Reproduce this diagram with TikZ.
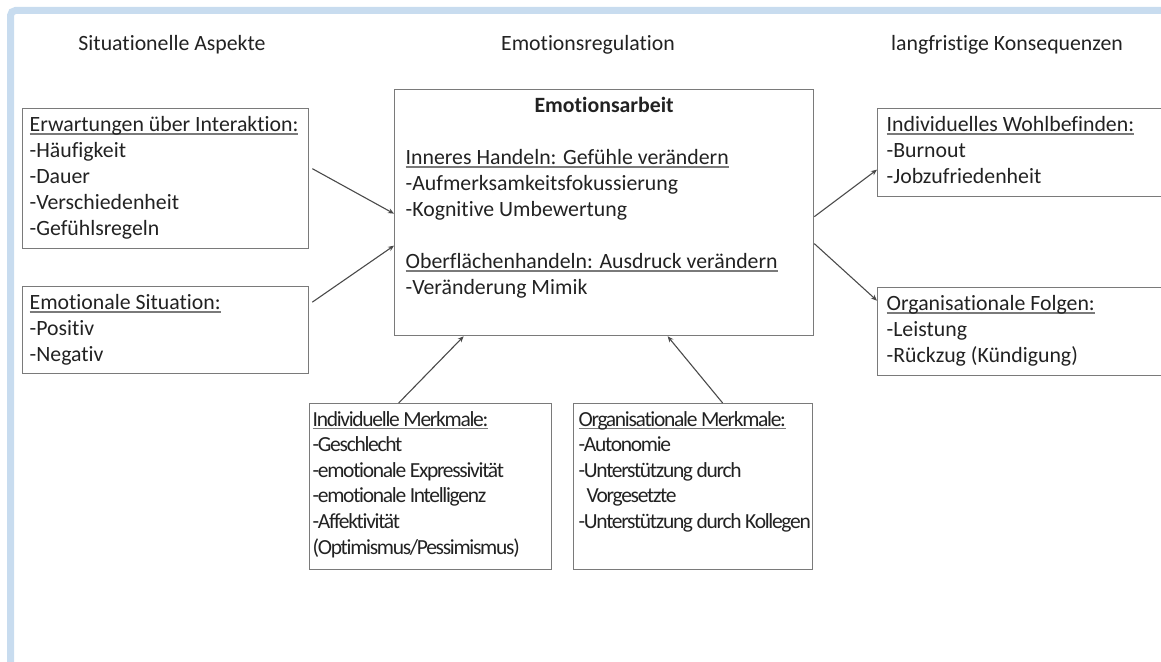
\documentclass[tikz,border=0pt]{standalone}
\usepackage{fontspec}
\setmainfont{Carlito}[Ligatures={NoCommon}]
% tightly set face for the two lower boxes
\newfontfamily\tightface{Carlito}[Ligatures={NoCommon}, LetterSpace=-6]
\usetikzlibrary{arrows.meta}

\definecolor{framebl}{HTML}{C8DCEF}
\definecolor{boxline}{HTML}{7A7A7A}
\definecolor{inktext}{HTML}{222222}
\definecolor{arrowln}{HTML}{4A4A4A}

% underlined heading, rule just below the baseline
\newcommand{\hdline}[1]{\leavevmode\setbox0=\hbox{#1}\rlap{\color{boxline}\rule[-3.2pt]{\wd0}{1.3pt}}\box0}
% box body: width, height, left padding, lines
\newcommand{\panel}[4]{%
  \begin{minipage}[t][#2pt][t]{#1pt}\raggedright\leftskip=#3pt\relax\parindent=0pt
  \hbadness=10000\hfuzz=30pt
  \vspace*{4.5pt}\strut#4\end{minipage}}

\begin{document}
\begin{tikzpicture}[x=1pt,y=-1pt,
  txt/.style={font=\fontsize{21.8pt}{26pt}\selectfont, text=inktext},
  box/.style={txt, draw=boxline, line width=1.3pt, inner sep=0pt, anchor=north west, align=left},
  smallbox/.style={box, font=\tightface\fontsize{21.5pt}{25.6pt}\selectfont},
  head/.style={txt, inner sep=0pt, anchor=base},
  arr/.style={draw=arrowln, line width=1.1pt, -{Stealth[length=6pt,width=5pt]}}]

\path[use as bounding box, clip] (0,0) rectangle (1161,661);

% light blue page frame
\draw[framebl, line width=7pt, rounded corners=5pt] (1250,10.5) -- (10.5,10.5) -- (10.5,720);

% column headings
\node[head] (hsit) at (172,51) {Situationelle Aspekte};
\node[head] (hreg) at (588,51) {Emotionsregulation};
\node[head] (hkon) at (1007,51) {langfristige Konsequenzen};

% left column
\node[box] (erw) at (22,108) {\panel{286}{140}{7}{%
  \hdline{Erwartungen über Interaktion:}\\
  -Häufigkeit\\
  -Dauer\\
  -Verschiedenheit\\
  -Gefühlsregeln}};
\node[box] (emo) at (22,286) {\panel{286}{87}{7}{%
  \hdline{Emotionale Situation:}\\
  -Positiv\\
  -Negativ}};

% central box
\node[box] (ea) at (394,89) {\panel{419}{246}{11}{%
  \makebox[\dimexpr\linewidth-22pt]{\bfseries Emotionsarbeit}\\
  \strut\\
  \hdline{Inneres Handeln: Gefühle verändern}\\
  -Aufmerksamkeitsfokussierung\\
  -Kognitive Umbewertung\\
  \strut\\
  \hdline{Oberflächenhandeln: Ausdruck verändern}\\
  -Veränderung Mimik}};

% right column
\node[box] (iwb) at (877,108) {\panel{320}{88}{9}{%
  \hdline{Individuelles Wohlbefinden:}\\
  -Burnout\\
  -Jobzufriedenheit}};
\node[box] (orgf) at (877,287) {\panel{320}{88}{9}{%
  \hdline{Organisationale Folgen:}\\
  -Leistung\\
  -Rückzug (Kündigung)}};

% bottom row
\node[smallbox] (im) at (309,403) {\panel{242}{166}{3}{%
  \hdline{Individuelle Merkmale:}\\
  -Geschlecht\\
  -emotionale Expressivität\\
  -emotionale Intelligenz\\
  -Affektivität\\
  \mbox{(Optimismus/Pessimismus)}}};
\node[smallbox] (om) at (573,403) {\panel{239}{166}{5}{%
  \hdline{Organisationale Merkmale:}\\
  -Autonomie\\
  -Unterstützung durch\\
  \hspace*{8pt}Vorgesetzte\\
  \mbox{-Unterstützung durch Kollegen}}};

% connectors
\draw[arr] ([xshift=3pt,yshift=10pt]erw.east) -- ([yshift=-1pt]ea.west);
\draw[arr] ([xshift=3pt,yshift=28pt]emo.east) -- ([yshift=-33pt]ea.west);
\draw[arr] ([yshift=-4pt]ea.east) -- ([yshift=-17pt]iwb.west);
\draw[arr] ([yshift=-31pt]ea.east) -- ([yshift=31pt]orgf.west);
\draw[arr] ([xshift=-32pt]im.north) -- ([xshift=-140.5pt]ea.south);
\draw[arr] ([xshift=29.5pt]om.north) -- ([xshift=63.5pt]ea.south);

\end{tikzpicture}
\end{document}
